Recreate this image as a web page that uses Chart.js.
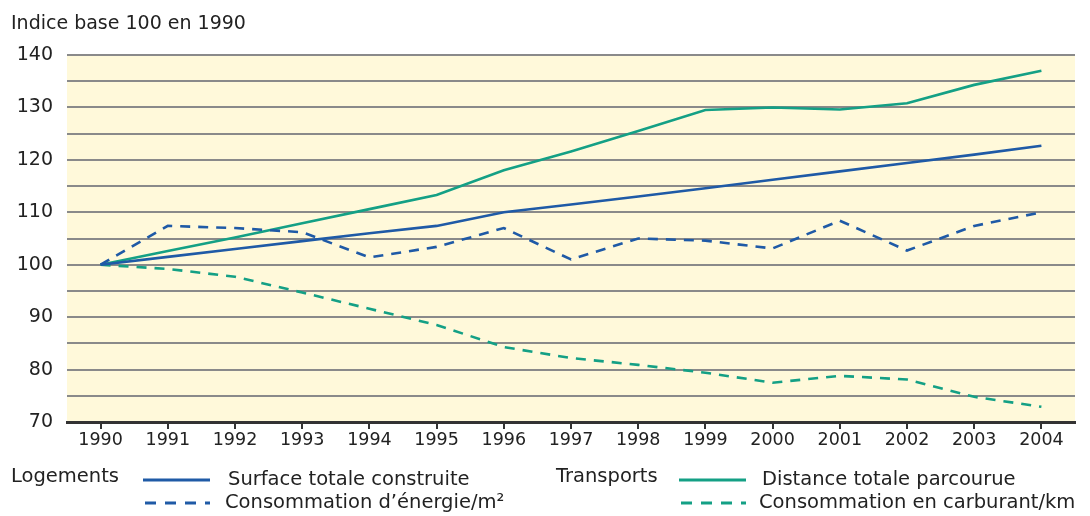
<!DOCTYPE html>
<html><head><meta charset="UTF-8"><title>Indice base 100 en 1990</title>
<script src="https://cdn.jsdelivr.net/npm/chart.js@4"></script>
<style>
body{margin:0;background:#fff;font-family:"DejaVu Sans",sans-serif;color:#222;}
#wrap{position:relative;width:1090px;height:516px;overflow:hidden;}
#title{position:absolute;left:11px;top:10px;font-size:19px;line-height:24px;}
.leg{position:absolute;font-size:19.5px;white-space:nowrap;line-height:24px;}
</style>
</head><body>
<div id="wrap">
  <canvas id="c" width="1090" height="516"></canvas>
  <div id="title">Indice base 100 en 1990</div>
  <div class="leg" style="left:11px;top:464px;">Logements</div>
  <svg style="position:absolute;left:140px;top:470px" width="75" height="40">
    <line x1="3" y1="10" x2="70" y2="10" stroke="#1f5aa6" stroke-width="3"/>
    <line x1="5" y1="33" x2="70" y2="33" stroke="#1f5aa6" stroke-width="3" stroke-dasharray="11,9"/>
  </svg>
  <div class="leg" style="left:228px;top:467px;">Surface totale construite</div>
  <div class="leg" style="left:225px;top:490px;">Consommation d’énergie/m²</div>
  <div class="leg" style="left:556px;top:464px;">Transports</div>
  <svg style="position:absolute;left:676px;top:470px" width="75" height="40">
    <line x1="3" y1="10" x2="70" y2="10" stroke="#14a085" stroke-width="3"/>
    <line x1="5" y1="33" x2="70" y2="33" stroke="#14a085" stroke-width="3" stroke-dasharray="11,9"/>
  </svg>
  <div class="leg" style="left:762px;top:467px;">Distance totale parcourue</div>
  <div class="leg" style="left:759px;top:490px;">Consommation en carburant/km</div>
</div>
<script>
// --- données ---
const years = ['1990','1991','1992','1993','1994','1995','1996','1997','1998','1999','2000','2001','2002','2003','2004'];
const surfaceConstruite = [100, 101.5, 103, 104.5, 106, 107.4, 110, 111.5, 113, 114.6, 116.2, 117.8, 119.4, 121, 122.7];
const energieM2 = [100, 107.4, 107, 106.2, 101.4, 103.4, 107, 101, 105, 104.6, 103.1, 108.4, 102.7, 107.4, 110];
const distanceParcourue = [100, 102.6, 105.2, 107.9, 110.6, 113.3, 118, 121.6, 125.5, 129.5, 130, 129.6, 130.8, 134.3, 137];
const carburantKm = [100, 99.2, 97.7, 94.7, 91.6, 88.5, 84.3, 82.2, 80.9, 79.4, 77.5, 78.8, 78.1, 74.8, 72.9];
const yMin = 70, yMax = 140, yStep = 5;

const BLUE = '#1f5aa6';
const GREEN = '#14a085';

// fond jaune pale de la zone du graphique
const bgPlugin = {
    id: 'bg',
    beforeDraw(chart) {
        const a = chart.chartArea, ctx = chart.ctx;
        ctx.save();
        ctx.fillStyle = '#fff9da';
        ctx.fillRect(a.left, a.top, a.right - a.left, a.bottom - a.top);
        ctx.restore();
    }
};

function serie(data, color, dashed) {
    return {
        data: data, borderColor: color, borderWidth: 2.6,
        borderDash: dashed ? [10, 8] : [], pointRadius: 0, tension: 0, fill: false
    };
}

new Chart(document.getElementById('c'), {
    type: 'line',
    data: {
        labels: years,
        datasets: [
            serie(surfaceConstruite, BLUE, false),
            serie(energieM2, BLUE, true),
            serie(distanceParcourue, GREEN, false),
            serie(carburantKm, GREEN, true)
        ]
    },
    options: {
        responsive: false, animation: false,
        layout: { padding: { top: 55, right: 15, left: 0, bottom: 0 } },
        plugins: { legend: { display: false }, tooltip: { enabled: false } },
        scales: {
            x: {
                offset: true,
                afterFit: s => { s.height = 94; },
                border: { display: true, color: '#333', width: 3 },
                grid: { drawOnChartArea: false, drawTicks: true, tickLength: 7, color: '#333', lineWidth: 2 },
                ticks: { color: '#222', padding: 1, font: { family: 'DejaVu Sans', size: 17.5 } }
            },
            y: {
                min: yMin, max: yMax,
                afterFit: s => { s.width = 67; },
                border: { display: false },
                grid: { color: '#8a8a8a', lineWidth: 2, drawTicks: false },
                ticks: {
                    stepSize: yStep, padding: 14, color: '#222',
                    font: { family: 'DejaVu Sans', size: 19 },
                    callback: v => (v % 10 === 0 ? v : '')
                }
            }
        }
    },
    plugins: [bgPlugin]
});
</script>
</body></html>
